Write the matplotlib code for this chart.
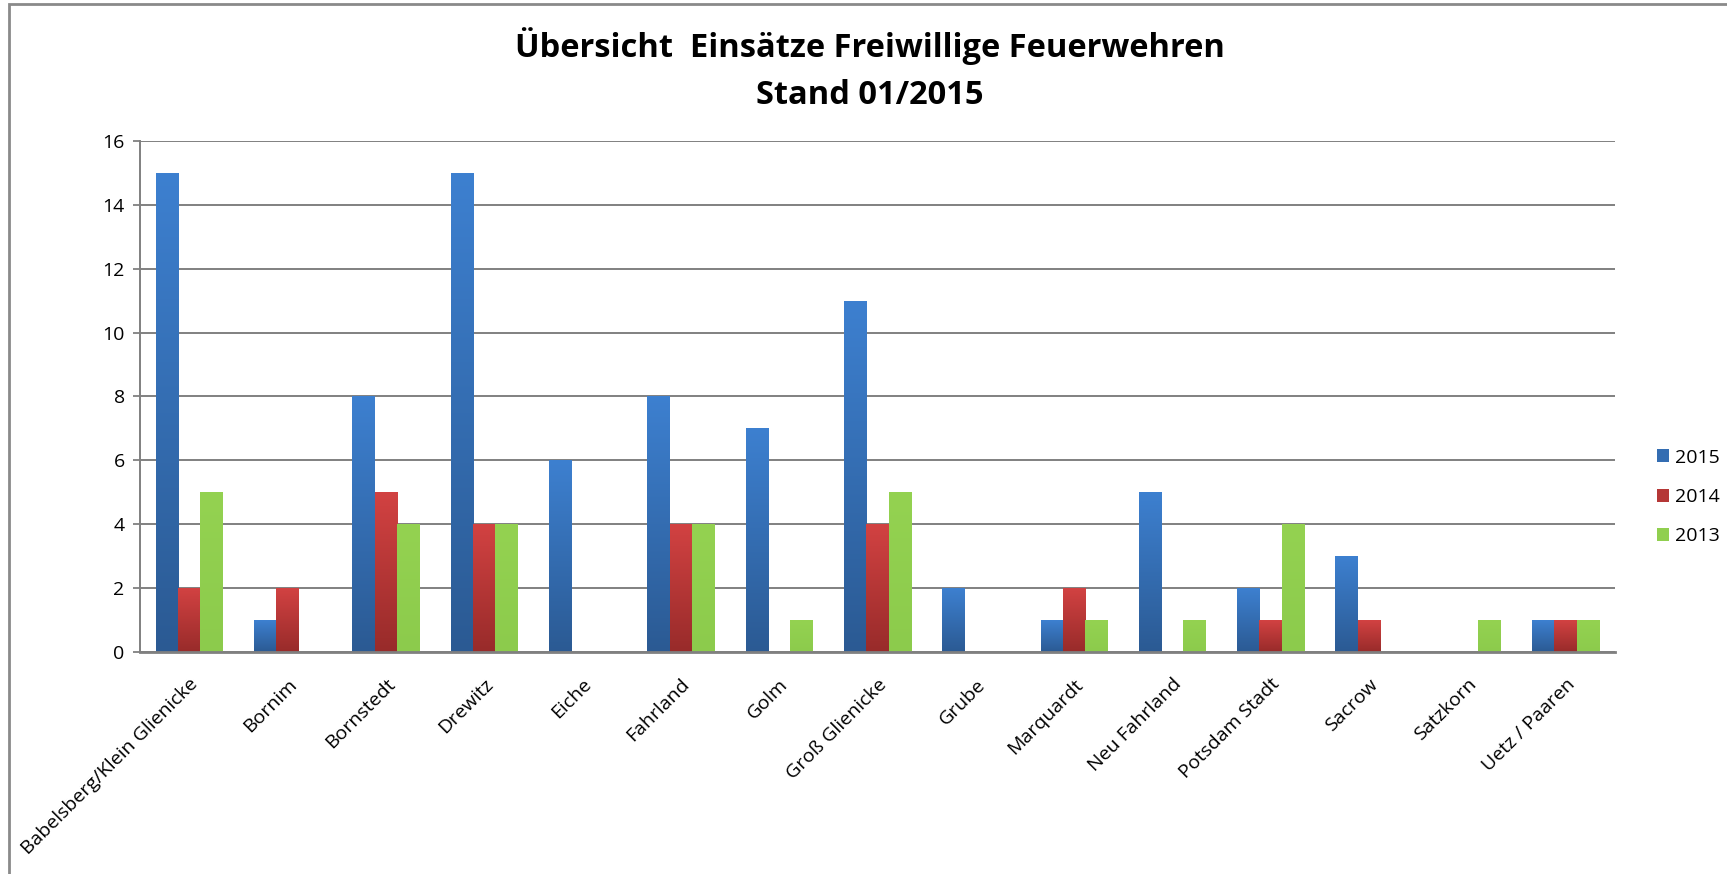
import numpy as np
import matplotlib.pyplot as plt
from matplotlib.colors import LinearSegmentedColormap
from matplotlib.patches import Rectangle

# Einsätze je Ortsteil
orte = ["Babelsberg/Klein Glienicke", "Bornim", "Bornstedt", "Drewitz", "Eiche",
        "Fahrland", "Golm", "Groß Glienicke", "Grube", "Marquardt", "Neu Fahrland",
        "Potsdam Stadt", "Sacrow", "Satzkorn", "Uetz / Paaren"]
einsaetze_2015 = [15, 1, 8, 15, 6, 8, 7, 11, 2, 1, 5, 2, 3, 0, 1]
einsaetze_2014 = [2, 2, 5, 4, 0, 4, 0, 4, 0, 2, 0, 1, 1, 0, 1]
einsaetze_2013 = [5, 0, 4, 4, 0, 4, 1, 5, 0, 1, 1, 4, 0, 1, 1]
jahre = ["2015", "2014", "2013"]
y_ticks = [0, 2, 4, 6, 8, 10, 12, 14, 16]

# Farben (unten, oben) fuer den Verlauf
farben = [("#2b5a93", "#3d80d0"), ("#982b2a", "#d24242"), ("#8ccb4c", "#94d251")]

plt.rcParams['font.family'] = ['Open Sans', 'DejaVu Sans']

fig = plt.figure(figsize=(17.27, 8.74), dpi=100)
ax = fig.add_axes([140 / 1727, 1 - 651.7 / 874, (1614.7 - 140) / 1727, (651.7 - 141) / 874])

# Rahmen um das ganze Diagramm
fig.patches.append(Rectangle((9 / 1727, -0.1), 1.2, 1.1 - 4.5 / 874, transform=fig.transFigure,
                             fill=False, edgecolor="#8a8a8a", linewidth=2))

x = np.arange(len(orte))
w = 0.227
grad = np.linspace(0, 1, 256).reshape(-1, 1)
handles = []
for k, werte in enumerate([einsaetze_2015, einsaetze_2014, einsaetze_2013]):
    unten, oben = farben[k]
    cmap = LinearSegmentedColormap.from_list("v%d" % k, [unten, oben])
    bars = ax.bar(x + (k - 1) * w, werte, width=w, color=cmap(0.5), linewidth=0,
                  zorder=3, label=jahre[k])
    handles.append(bars)
    for b in bars:
        h = b.get_height()
        if h <= 0:
            continue
        x0 = b.get_x()
        im = ax.imshow(grad, cmap=cmap, aspect='auto', origin='lower', interpolation='bilinear',
                       extent=(x0, x0 + b.get_width(), 0, h), zorder=3.5)
        im.set_clip_path(b)

ax.set_xlim(-0.5, len(orte) - 0.5)
ax.set_ylim(0, 16)
ax.set_yticks(y_ticks)
ax.set_xticks(x)
ax.set_xticklabels(orte, rotation=45, ha='right', rotation_mode='anchor', fontsize=14)
ax.tick_params(axis='x', length=0, pad=17)
ax.tick_params(axis='y', length=5, color="#808080", width=1.3, labelsize=14, pad=6)
ax.grid(axis='y', color="#808080", linewidth=1.4, zorder=0)
ax.set_axisbelow(True)
for s in ['top', 'right']:
    ax.spines[s].set_visible(False)
ax.spines['left'].set_color("#808080")
ax.spines['left'].set_linewidth(1.4)
ax.spines['bottom'].set_color("#808080")
ax.spines['bottom'].set_linewidth(2)
ax.spines['bottom'].set_zorder(5)

ax.legend(handles=handles, loc='center left', bbox_to_anchor=(1647 / 1727, 1 - 497 / 874),
          bbox_transform=fig.transFigure, frameon=False, fontsize=14,
          handlelength=0.65, handleheight=0.65, handletextpad=0.3, labelspacing=1.1,
          borderpad=0)

fig.text(0.5037, 1 - 46 / 874, "Übersicht  Einsätze Freiwillige Feuerwehren",
         ha='center', va='center', fontsize=23.5, fontweight='bold')
fig.text(0.5037, 1 - 95 / 874, "Stand 01/2015",
         ha='center', va='center', fontsize=23.5, fontweight='bold')

fig.savefig("out.png", dpi=100, facecolor="white")
